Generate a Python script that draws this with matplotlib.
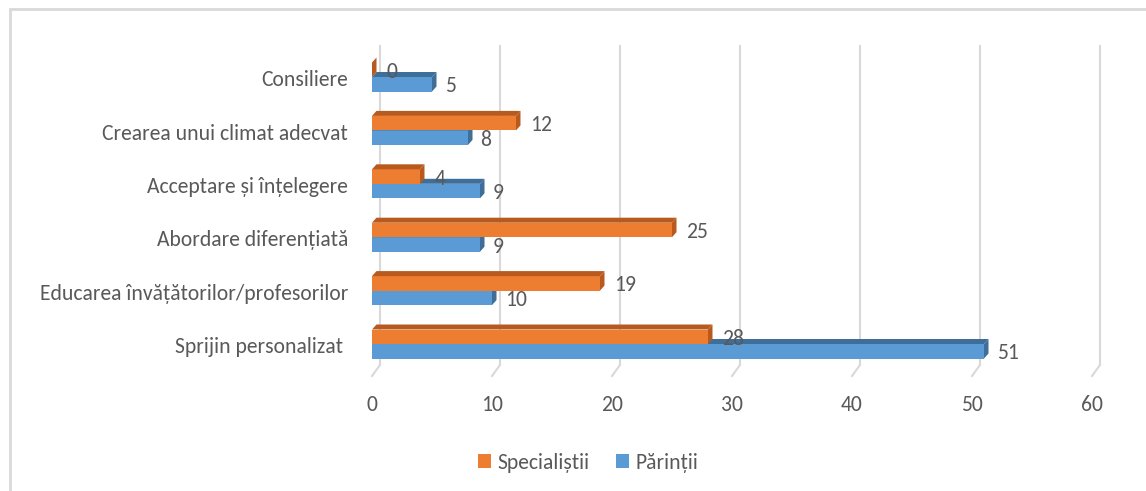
import matplotlib
matplotlib.use("Agg")
import matplotlib.pyplot as plt
from matplotlib.patches import Polygon, Rectangle, Patch
from matplotlib import font_manager as fm
import numpy as np

_avail = {f.name for f in fm.fontManager.ttflist}
FONT = "DejaVu Sans"
for _c in ["Carlito", "Liberation Sans Narrow", "Archivo Narrow", "Asap Condensed",
           "Encode Sans Condensed"]:
    if _c in _avail:
        FONT = _c
        break
plt.rcParams['font.family'] = [FONT, 'DejaVu Sans']

categories = ["Sprijin personalizat ", "Educarea învățătorilor/profesorilor",
              "Abordare diferențiată", "Acceptare și înțelegere",
              "Crearea unui climat adecvat", "Consiliere"]
specialistii = [28, 19, 25, 4, 12, 0]
parintii = [51, 10, 9, 9, 8, 5]
series_names = ["Specialiștii", "Părinții"]
xticks = [0, 10, 20, 30, 40, 50, 60]

ORANGE = "#ED7D31"
ORANGE_D = "#B85A1E"
BLUE = "#5B9BD5"
BLUE_D = "#3F6E98"
GRID = "#D9D9D9"
TXT = "#595959"
FS = 15.6

W, H = 1146, 491
fig = plt.figure(figsize=(W / 100, H / 100), dpi=100)
fig.patch.set_facecolor("white")

x0_px, x1_px = 372, 1092
top_px, bot_px = 40, 380
ax = fig.add_axes([x0_px / W, 1 - bot_px / H, (x1_px - x0_px) / W, (bot_px - top_px) / H])
ppu_x = (x1_px - x0_px) / 60.0
ppu_y = 53.4
c0_px = 344
ax.set_xlim(0, 60)
ax.set_ylim((c0_px - bot_px) / ppu_y, (c0_px - top_px) / ppu_y)
ax.axis("off")

def py(p):
    return (c0_px - p) / ppu_y

gdx = 8 / ppu_x
for v in xticks:
    ax.plot([v + gdx, v + gdx], [py(365), py(45)], color=GRID, lw=1.5, zorder=1,
            solid_capstyle="butt", clip_on=False)
    ax.plot([v, v + gdx], [py(376), py(365)], color=GRID, lw=1.5, zorder=1, clip_on=False)
    ax.text(v, py(405), str(v), ha="center", va="center", fontsize=FS,
            color=TXT, clip_on=False)

h = 14.5 / ppu_y
dx = 4.5 / ppu_x
dy = 5.0 / ppu_y
y = np.arange(len(categories))

def bar3d(val, yc, front, dark):
    b, t = yc - h / 2, yc + h / 2
    ax.add_patch(Rectangle((0, b), val, h, facecolor=front, edgecolor="none", zorder=3))
    ax.add_patch(Polygon([(0, t), (dx, t + dy), (val + dx, t + dy), (val, t)],
                         closed=True, facecolor=dark, edgecolor="none", zorder=3))
    ax.add_patch(Polygon([(val, b), (val + dx, b + dy), (val + dx, t + dy), (val, t)],
                         closed=True, facecolor=dark, edgecolor="none", zorder=3))

for i in range(len(categories)):
    yb = y[i] - h / 2
    yo = y[i] + h / 2
    bar3d(parintii[i], yb, BLUE, BLUE_D)
    bar3d(specialistii[i], yo, ORANGE, ORANGE_D)
    ax.text(parintii[i] + 1.05, yb - 0.04, str(parintii[i]), ha="left", va="center",
            fontsize=FS, color=TXT, zorder=5)
    ax.text(specialistii[i] + 1.2, yo - 0.04, str(specialistii[i]), ha="left",
            va="center", fontsize=FS, color=TXT, zorder=5)
    ax.text((348 - x0_px) / ppu_x, y[i] - 0.06, categories[i], ha="right",
            va="center", fontsize=FS, color=TXT, clip_on=False)

handles = [Patch(facecolor=ORANGE, edgecolor="none"), Patch(facecolor=BLUE, edgecolor="none")]
fig.legend(handles, series_names, loc="center", bbox_to_anchor=(588 / W, 1 - 463 / H),
           ncol=2, frameon=False, fontsize=FS, handlelength=0.6, handleheight=0.6,
           handletextpad=0.3, columnspacing=1.2, labelcolor=TXT)

fig.patches.append(Rectangle((10 / W, -0.05), 1.2, 1 - 9 / H + 0.05, transform=fig.transFigure,
                             facecolor="none", edgecolor=GRID, lw=2))

fig.savefig("out.png", dpi=100)
